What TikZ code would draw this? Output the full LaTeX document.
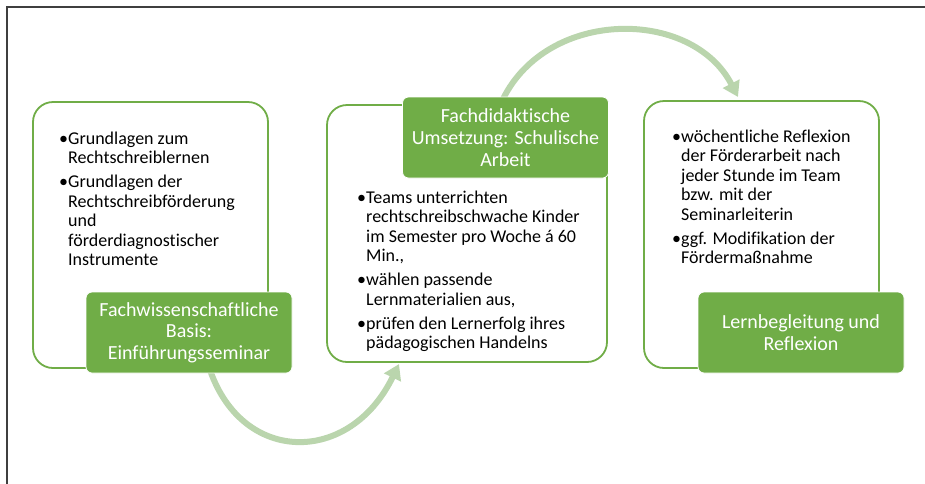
\documentclass[tikz,border=0pt]{standalone}
\usepackage{fontspec}
\setmainfont{Carlito}[RawFeature={-liga}]
\usetikzlibrary{arrows.meta,calc}
\definecolor{accent}{HTML}{70AD47}
\definecolor{flowgreen}{HTML}{BAD5AD}
\definecolor{framegray}{HTML}{3F3F3F}
\newcommand{\bul}{\makebox[9pt][l]{•}}
\begin{document}
\begin{tikzpicture}[x=1pt,y=-1pt,
  outerbox/.style={draw=accent,line width=1.8pt,rounded corners=20pt,fill=white,inner sep=0pt},
  tagbox/.style={fill=accent,draw=white,line width=0.8pt,rounded corners=6pt,text=white,
    minimum width=206pt,minimum height=81pt,align=center,inner sep=0pt,
    font=\fontsize{20}{21.7}\selectfont},
  bulltext/.style={anchor=base west,inner sep=0pt,font=\fontsize{18}{19.5}\selectfont},
  flowarrow/.style={draw=flowgreen,line width=6pt,-{Triangle[length=15pt,width=18pt]}}]
  \useasboundingbox (0,0) rectangle (925,483);
  % page frame (top and left edges only)
  \draw[framegray,line width=1.5pt] (7,484) -- (7,7) -- (926,7);

  % curved connectors, drawn beneath the boxes
  \coordinate (a1s) at (210,370);
  \coordinate (a1e) at (399,364);
  \coordinate (a2s) at (503,99);
  \coordinate (a2e) at (738,97);
  \draw[flowarrow] (a1s) .. controls (243,465) and (350,465) .. (a1e);
  \draw[flowarrow] (a2s) .. controls (548,8) and (692,8) .. (a2e);

  % step 1
  \node[outerbox,minimum width=235pt,minimum height=266pt] (box1) at (150.5,235) {};
  \node[bulltext] (txt1) at (59,144) {\begin{tabular}[t]{@{}l@{}l@{}}
    \bul&Grundlagen zum\\ &Rechtschreiblernen\\[4.5pt]
    \bul&Grundlagen der\\ &Rechtschreibförderung\\ &und\\ &förderdiagnostischer\\ &Instrumente
  \end{tabular}};
  \node[tagbox] (tag1) at (189,332.5) {Fachwissenschaftliche\\Basis:\\Einführungsseminar};

  % step 2
  \node[outerbox,minimum width=280pt,minimum height=257pt] (box2) at (467,233.5) {};
  \node[bulltext] (txt2) at (357,203) {\begin{tabular}[t]{@{}l@{}l@{}}
    \bul&Teams unterrichten\\ &rechtschreibschwache Kinder\\ &im Semester pro Woche á 60\\ &Min.,\\[4.5pt]
    \bul&wählen passende\\ &Lernmaterialien aus,\\[4.5pt]
    \bul&prüfen den Lernerfolg ihres\\ &pädagogischen Handelns
  \end{tabular}};
  \node[tagbox] (tag2) at (505.5,137.5) {Fachdidaktische\\Umsetzung: Schulische\\Arbeit};

  % step 3
  \node[outerbox,minimum width=235pt,minimum height=267pt] (box3) at (761.5,234.5) {};
  \node[bulltext] (txt3) at (672,142) {\begin{tabular}[t]{@{}l@{}l@{}}
    \bul&wöchentliche Reflexion\\ &der Förderarbeit nach\\ &jeder Stunde im Team\\ &bzw. mit der\\ &Seminarleiterin\\[4.5pt]
    \bul&ggf. Modifikation der\\ &Fördermaßnahme
  \end{tabular}};
  \node[tagbox] (tag3) at (801,332.5) {Lernbegleitung und\\Reflexion};
\end{tikzpicture}
\end{document}
